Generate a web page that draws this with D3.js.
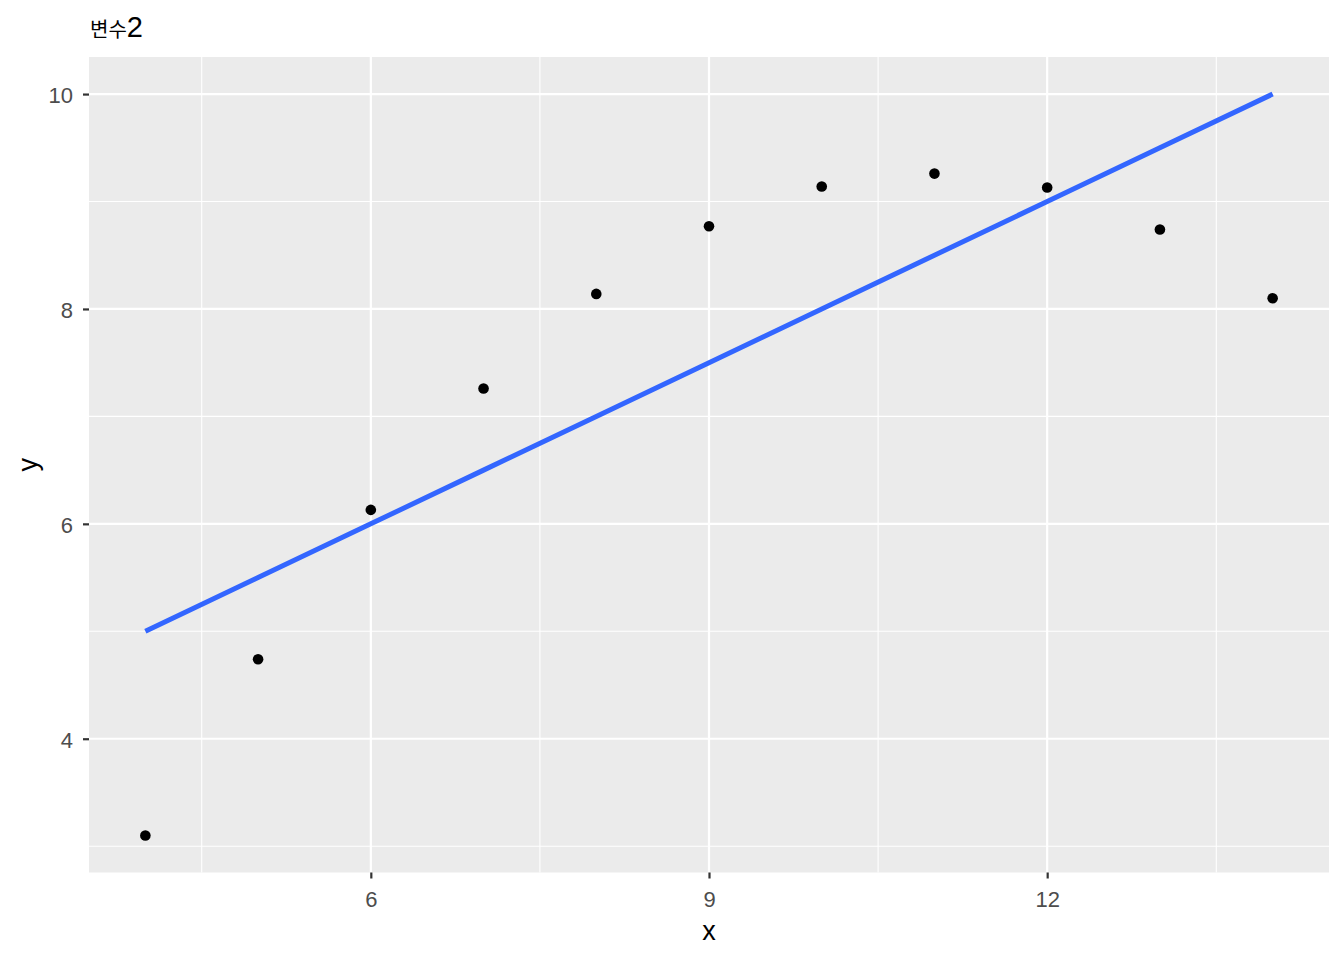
<!DOCTYPE html>
<html><head><meta charset="utf-8">
<script src="https://cdn.jsdelivr.net/npm/d3@7"></script>
<style>body{margin:0;background:#fff;} svg{display:block;}</style>
</head><body>
<script>
const xs = [10, 8, 13, 9, 11, 14, 6, 4, 12, 7, 5];
const ys = [9.14, 8.14, 8.74, 8.77, 9.26, 8.10, 6.13, 3.10, 9.13, 7.26, 4.74];
const fitX = [4, 5, 6, 7, 8, 9, 10, 11, 12, 13, 14];
const fitY = [5.0, 5.5, 6.0, 6.5, 7.0, 7.5, 8.0, 8.5, 9.0, 9.5, 10.0];
const xTicks = [6, 9, 12];
const xMinor = [4.5, 7.5, 10.5, 13.5];
const yTicks = [4, 6, 8, 10];
const yMinor = [3, 5, 7, 9];

const W = 1344, H = 960;
const L = 89, R = 1329, T = 57, B = 872.5;
const svg = d3.select("body").append("svg").attr("width", W).attr("height", H);
const x = d3.scaleLinear().domain([3.5, 14.5]).range([L, R]);
const y = d3.scaleLinear().domain([2.755, 10.345]).range([B, T]);

svg.append("rect").attr("x", L).attr("y", T).attr("width", R - L).attr("height", B - T).attr("fill", "#EBEBEB");
const g = svg.append("g");
g.selectAll(".xm").data(xMinor).join("line").attr("x1", d => x(d)).attr("x2", d => x(d)).attr("y1", T).attr("y2", B).attr("stroke", "#fff").attr("stroke-width", 1.1);
g.selectAll(".ym").data(yMinor).join("line").attr("y1", d => y(d)).attr("y2", d => y(d)).attr("x1", L).attr("x2", R).attr("stroke", "#fff").attr("stroke-width", 1.1);
g.selectAll(".xM").data(xTicks).join("line").attr("x1", d => x(d)).attr("x2", d => x(d)).attr("y1", T).attr("y2", B).attr("stroke", "#fff").attr("stroke-width", 2.2);
g.selectAll(".yM").data(yTicks).join("line").attr("y1", d => y(d)).attr("y2", d => y(d)).attr("x1", L).attr("x2", R).attr("stroke", "#fff").attr("stroke-width", 2.2);

const line = d3.line().x((d, i) => x(fitX[i])).y(d => y(d));
svg.append("path").datum(fitY).attr("d", line).attr("fill", "none").attr("stroke", "#3366FF").attr("stroke-width", 5);

svg.selectAll(".pt").data(xs).join("circle").attr("cx", d => x(d)).attr("cy", (d, i) => y(ys[i])).attr("r", 5.3).attr("fill", "#000");

const xAxis = d3.axisBottom(x).tickValues(xTicks).tickSize(6).tickPadding(13).tickFormat(d3.format("d"));
const ax = svg.append("g").attr("transform", `translate(0,${B})`).call(xAxis);
const yAxis = d3.axisLeft(y).tickValues(yTicks).tickSize(6).tickPadding(10).tickFormat(d3.format("d"));
const ay = svg.append("g").attr("transform", `translate(${L},0)`).call(yAxis);
[ax, ay].forEach(a => {
  a.select(".domain").remove();
  a.selectAll(".tick line").attr("stroke", "#333").attr("stroke-width", 2.2);
  a.selectAll(".tick text").attr("fill", "#4D4D4D").style("font-family", "Liberation Sans, Arial, sans-serif").style("font-size", "22px");
});
ay.selectAll(".tick text").attr("dy", "0.4em");

svg.append("text").attr("x", (L + R) / 2).attr("y", 940).attr("text-anchor", "middle")
  .style("font-family", "Liberation Sans, Arial, sans-serif").style("font-size", "27px").text("x");
svg.append("text").attr("transform", `translate(37,${(T + B) / 2}) rotate(-90)`).attr("text-anchor", "middle")
  .style("font-family", "Liberation Sans, Arial, sans-serif").style("font-size", "27px").text("y");

const title = svg.append("text").attr("x", 90).attr("y", 37);
title.append("tspan").style("font-family", "Noto Sans CJK KR, sans-serif").style("font-size", "20px").text("변수");
title.append("tspan").style("font-family", "Liberation Sans, Arial, sans-serif").style("font-size", "29px").text("2");
</script>
</body></html>
